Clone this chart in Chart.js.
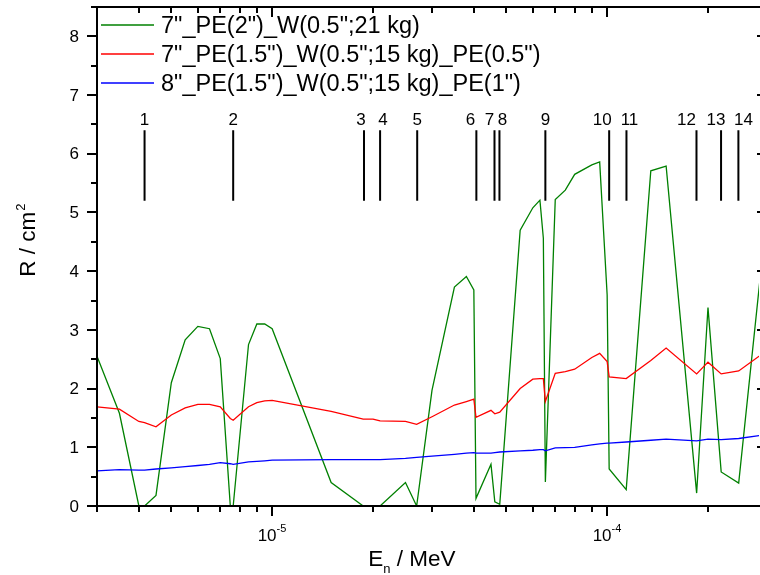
<!DOCTYPE html>
<html><head><meta charset="utf-8">
<script src="https://cdn.jsdelivr.net/npm/chart.js@4/dist/chart.umd.min.js"></script>
<style>html,body{margin:0;padding:0;background:#fff;}canvas{display:block;}</style>
</head><body>
<canvas id="c" width="760" height="575"></canvas>
<script>
// ---- data (energies in MeV, R in cm^2) ----
const energy = [3.0e-6,3.5e-6,4.0e-6,4.16e-6,4.5e-6,5.0e-6,5.5e-6,6.0e-6,6.5e-6,7.0e-6,
  7.5e-6,7.65e-6,8.5e-6,9.0e-6,9.5e-6,1.0e-5,1.5e-5,1.87e-5,2.0e-5,2.1e-5,
  2.5e-5,2.7e-5,3.0e-5,3.5e-5,3.8e-5,4.0e-5,4.06e-5,4.5e-5,4.62e-5,4.78e-5,
  5.5e-5,6.0e-5,6.3e-5,6.45e-5,6.54e-5,7.0e-5,7.5e-5,8.0e-5,9.0e-5,9.5e-5,
  1.0e-4,1.014e-4,1.14e-4,1.35e-4,1.5e-4,1.85e-4,2.0e-4,2.19e-4,2.47e-4,3.0e-4];
const seriesGreen = [2.55,1.58,0,0,0.18,2.10,2.83,3.06,3.02,2.51,
  0,0,2.75,3.10,3.10,3.02,0.40,0,0,0,
  0.40,0,1.97,3.73,3.91,3.68,0.13,0.71,0.07,0.03,
  4.70,5.08,5.21,4.56,0.41,5.22,5.38,5.65,5.81,5.86,
  3.60,0.63,0.28,5.71,5.79,0.22,3.38,0.58,0.39,5.0];
const seriesRed = [1.69,1.65,1.44,1.42,1.35,1.55,1.67,1.73,1.73,1.69,
  1.49,1.46,1.69,1.76,1.79,1.80,1.61,1.48,1.48,1.45,
  1.44,1.39,1.52,1.72,1.78,1.82,1.51,1.63,1.57,1.60,
  2.00,2.16,2.17,2.17,1.78,2.26,2.29,2.33,2.53,2.60,
  2.46,2.20,2.17,2.48,2.69,2.25,2.45,2.25,2.30,2.65];
const seriesBlue = [0.60,0.62,0.61,0.61,0.63,0.65,0.67,0.69,0.71,0.74,
  0.72,0.71,0.75,0.76,0.77,0.78,0.79,0.79,0.79,0.79,
  0.81,0.83,0.85,0.88,0.90,0.91,0.90,0.90,0.91,0.92,
  0.94,0.95,0.96,0.96,0.94,0.99,0.995,1.00,1.04,1.06,
  1.07,1.07,1.09,1.12,1.14,1.11,1.14,1.13,1.15,1.22];
const seriesLabels = ['7"_PE(2")_W(0.5";21 kg)', '7"_PE(1.5")_W(0.5";15 kg)_PE(0.5")', '8"_PE(1.5")_W(0.5";15 kg)_PE(1")'];
const resonanceE = [4.16e-6,7.65e-6,1.88e-5,2.1e-5,2.71e-5,4.07e-5,4.61e-5,4.77e-5,6.54e-5,1.014e-4,1.142e-4,1.848e-4,2.188e-4,2.465e-4];
const resonanceLabels = ['1','2','3','4','5','6','7','8','9','10','11','12','13','14'];
const resonanceRange = [5.2, 6.4];
const yTickLabels = ['0','1','2','3','4','5','6','7','8'];
const xRange = [3e-6, 2.84e-4];   // visible part of the axis (frame ends at 3e-4, just past the image edge)
const xFrameEnd = 3e-4;
const yRange = [0, 8.5];

// ---- layout / style ----
const FONT = '"Liberation Sans", Arial, sans-serif';
const colors = ['#008000', '#ff0000', '#0000ff'];
const labelNudge = {2:-3, 3:3, 5:-6, 6:-5, 7:3, 9:-7, 10:3, 11:-10, 12:-5, 13:5};

const pts = arr => energy.map((e, i) => ({x: e, y: arr[i]}));
const markerPts = [];
resonanceE.forEach(e => { markerPts.push({x: e, y: resonanceRange[0]}, {x: e, y: resonanceRange[1]}, {x: e, y: null}); });

const datasets = [seriesGreen, seriesRed, seriesBlue].map((arr, i) => ({
  label: seriesLabels[i], data: pts(arr), borderColor: colors[i], backgroundColor: colors[i],
  borderWidth: 1.3, pointRadius: 0, tension: 0, fill: false, order: 3 - i
}));
datasets.push({label: 'markers', data: markerPts, borderColor: '#000', borderWidth: 2, pointRadius: 0, spanGaps: false, order: 0});

const overlay = {
  id: 'overlay',
  afterDatasetsDraw(chart) {
    const ctx = chart.ctx, ca = chart.chartArea, xs = chart.scales.x, ys = chart.scales.y;
    const right = xs.getPixelForValue(xFrameEnd);
    ctx.save();
    ctx.strokeStyle = '#000'; ctx.fillStyle = '#000'; ctx.lineWidth = 2; ctx.lineCap = 'butt';
    const seg = (x1, y1, x2, y2) => { ctx.beginPath(); ctx.moveTo(x1, y1); ctx.lineTo(x2, y2); ctx.stroke(); };
    // frame
    ctx.beginPath();
    ctx.moveTo(ca.left, ca.bottom); ctx.lineTo(ca.left, ca.top); ctx.lineTo(right, ca.top);
    ctx.lineTo(right, ca.bottom); ctx.closePath(); ctx.stroke();
    // x ticks (log)
    for (let d = -6; d <= -3; d++) for (let m = 1; m <= 9; m++) {
      const v = m * Math.pow(10, d);
      if (v < xRange[0] * 0.999 || v > xFrameEnd * 1.001) continue;
      const px = Math.round(xs.getPixelForValue(v));
      const len = m === 1 ? 10 : 6;
      seg(px, ca.bottom, px, ca.bottom + len);
      seg(px, ca.top, px, ca.top + len);
      if (m === 1) {
        ctx.font = '17px ' + FONT; const w1 = ctx.measureText('10').width;
        ctx.font = '11px ' + FONT; const sup = String(d); const w2 = ctx.measureText(sup).width;
        const x0 = px - (w1 + w2) / 2;
        ctx.textAlign = 'left'; ctx.textBaseline = 'alphabetic';
        ctx.font = '17px ' + FONT; ctx.fillText('10', x0, ca.bottom + 35);
        ctx.font = '11px ' + FONT; ctx.fillText(sup, x0 + w1, ca.bottom + 26);
      }
    }
    // y ticks
    for (let v = yRange[0]; v <= yRange[1] + 1e-9; v += 0.5) {
      const py = Math.round(ys.getPixelForValue(v));
      const major = Math.abs(v - Math.round(v)) < 1e-9;
      const len = major ? 10 : 6;
      seg(ca.left - len, py, ca.left, py);
      seg(right - len, py, right, py);
    }
    ctx.font = '17px ' + FONT; ctx.textAlign = 'right'; ctx.textBaseline = 'middle';
    yTickLabels.forEach((t, i) => ctx.fillText(t, ca.left - 18, ys.getPixelForValue(i) + 1));
    // resonance labels
    ctx.textAlign = 'center'; ctx.textBaseline = 'alphabetic'; ctx.font = '17px ' + FONT;
    const topPx = ys.getPixelForValue(resonanceRange[1]);
    resonanceE.forEach((e, i) => ctx.fillText(resonanceLabels[i], xs.getPixelForValue(e) + (labelNudge[i] || 0), topPx - 5.5));
    // legend
    ctx.textAlign = 'left'; ctx.font = '23.5px ' + FONT;
    for (let i = 0; i < 3; i++) {
      const ly = 25 + i * 29;
      ctx.strokeStyle = colors[i]; ctx.lineWidth = 1.3;
      seg(101, ly, 154, ly);
      ctx.fillStyle = '#000';
      ctx.fillText(seriesLabels[i], 161, ly + 8.3);
    }
    // x title
    ctx.font = '22.5px ' + FONT; ctx.textAlign = 'left';
    let tx = 368.3;
    ctx.fillText('E', tx, 566); tx += ctx.measureText('E').width;
    ctx.font = '13px ' + FONT; ctx.fillText('n', tx, 573); tx += ctx.measureText('n').width;
    ctx.font = '22.5px ' + FONT; ctx.fillText(' / MeV', tx, 566);
    // y title
    ctx.save();
    ctx.translate(35, 276.7); ctx.rotate(-Math.PI / 2);
    ctx.font = '22.5px ' + FONT; ctx.fillText('R / cm', 0, 0);
    const wy = ctx.measureText('R / cm').width;
    ctx.font = '13px ' + FONT; ctx.fillText('2', wy + 1, -10);
    ctx.restore();
    ctx.restore();
  }
};

new Chart(document.getElementById('c'), {
  type: 'line',
  data: { datasets },
  options: {
    responsive: false, animation: false, devicePixelRatio: 1,
    layout: { padding: { left: 97, right: 1, top: 7, bottom: 69 } },
    scales: {
      x: { type: 'logarithmic', min: xRange[0], max: xRange[1], display: false },
      y: { type: 'linear', min: yRange[0], max: yRange[1], display: false }
    },
    plugins: { legend: { display: false }, tooltip: { enabled: false } }
  },
  plugins: [overlay]
});
</script>
</body></html>
